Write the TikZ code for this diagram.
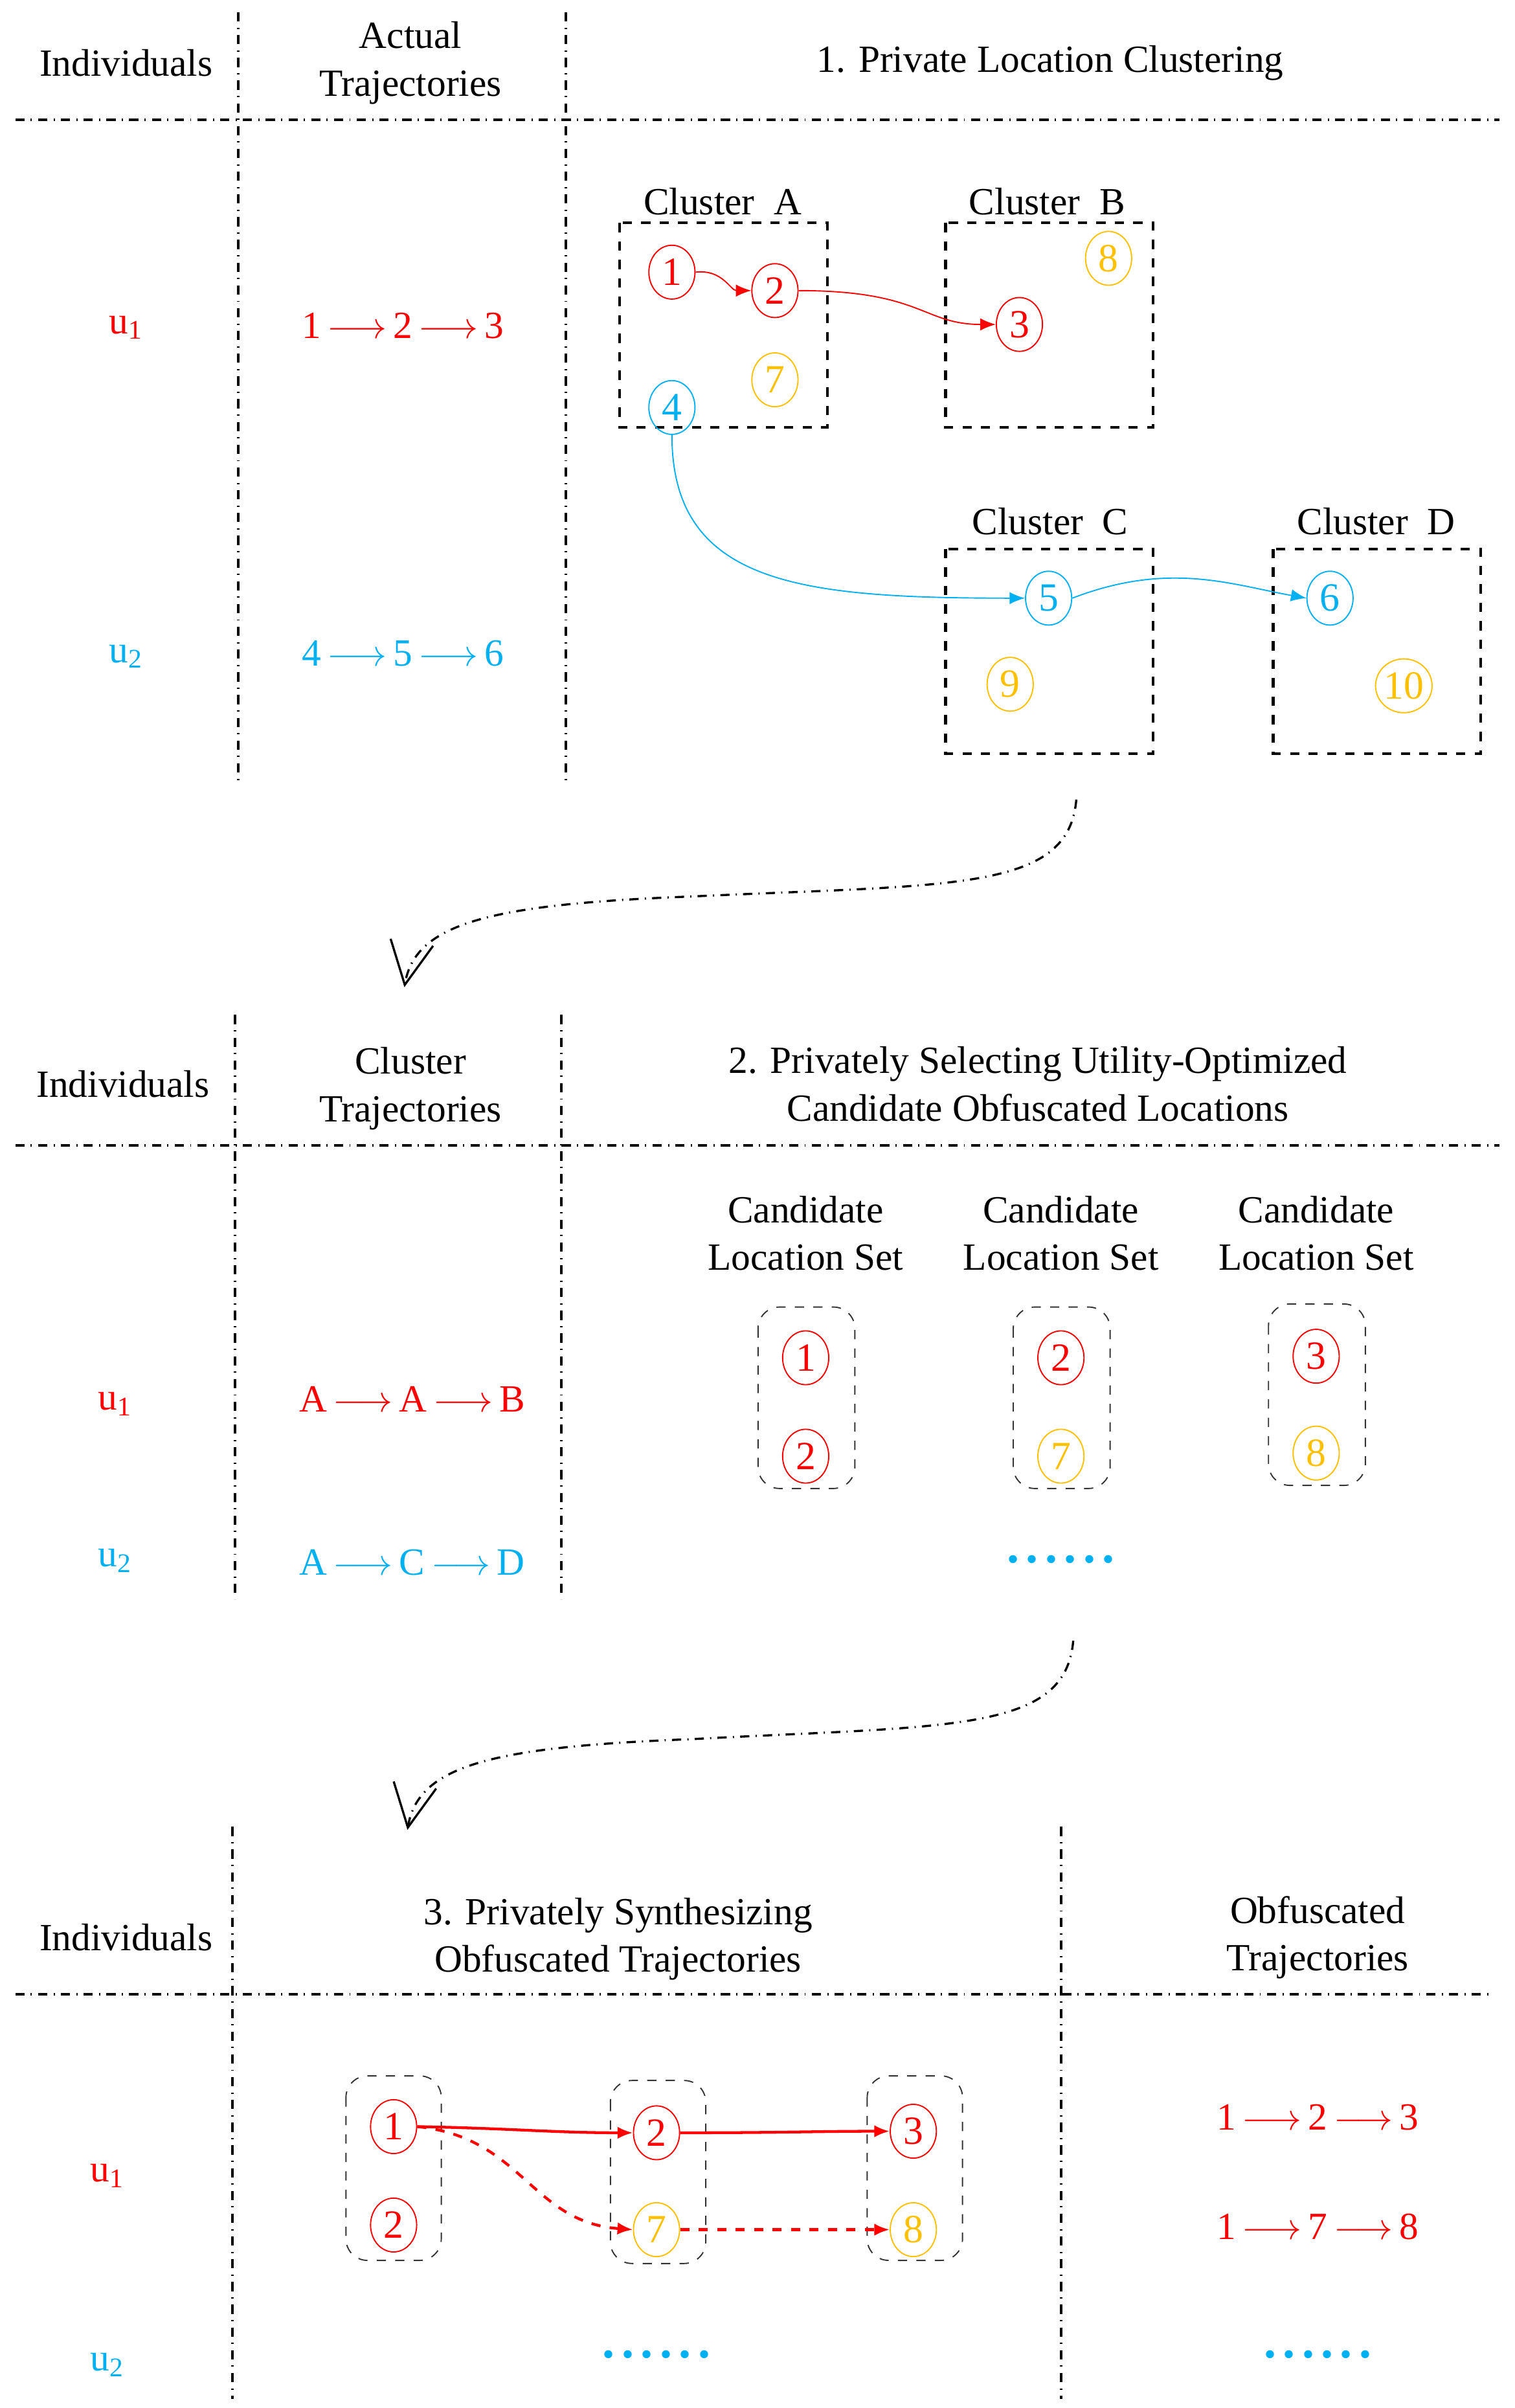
\documentclass[tikz,border=0pt]{standalone}
\usepackage{fontspec}
\setmainfont{Liberation Serif}
\usetikzlibrary{shapes.geometric,arrows.meta}
\definecolor{myred}{RGB}{255,0,0}
\definecolor{mycyan}{RGB}{0,176,240}
\definecolor{myyellow}{RGB}{255,192,0}
\newcommand{\ra}{\,$\longrightarrow$\,}
\newcommand{\dotrow}{.\hspace{2.2pt}.\hspace{2.2pt}.\hspace{2.2pt}.\hspace{2.2pt}.\hspace{2.2pt}.}
\tikzset{
  sep/.style={dash dot,line width=0.8pt},
  loc/.style={ellipse,draw,thin,inner sep=0pt,minimum width=15pt,minimum height=17.5pt,font=\fontsize{13}{13}\selectfont},
  cbox/.style={dashed,line width=0.9pt},
  rbox/.style={draw=black!80,dashed,rounded corners=7pt,thin},
  txt/.style={font=\fontsize{12.5}{15.5}\selectfont,align=center},
  flow/.style={-{Latex[length=5pt,width=4pt]},thin},
  bigarrow/.style={dash dot,line width=0.7pt,-{Straight Barb[length=14pt,width=14pt,line width=0.7pt]}},
  dots/.style={font=\fontsize{16}{16}\selectfont\bfseries,text=mycyan}
}
\begin{document}
\begin{tikzpicture}[x=0.5pt,y=0.5pt,yscale=-1]
\useasboundingbox (0,0) rectangle (985,1566);

% section 1
\draw[sep] (155,8) -- (155,510);
\draw[sep] (368,8) -- (368,510);
\draw[sep] (10,78) -- (975,78);
\node[txt] (ind1) at (82,41) {Individuals};
\node[txt] (act) at (267,41) {Actual\\Trajectories};
\node[txt] (title1) at (683,41) {1. Private Location Clustering};
\node[txt,text=myred] (u1a) at (82,213) {u\textsubscript{1}};
\node[txt,text=mycyan] (u2a) at (82,427) {u\textsubscript{2}};
\node[txt,text=myred] (tra) at (262,212) {1\ra 2\ra 3};
\node[txt,text=mycyan] (trb) at (262,425) {4\ra 5\ra 6};

\draw[cbox] (403,145) rectangle (538,278);
\draw[cbox] (615,145) rectangle (750,278);
\draw[cbox] (615,357) rectangle (750,490);
\draw[cbox] (828,357) rectangle (963,490);
\node[txt] (clA) at (470,131) {Cluster\ \ A};
\node[txt] (clB) at (681,131) {Cluster\ \ B};
\node[txt] (clC) at (683,339) {Cluster\ \ C};
\node[txt] (clD) at (895,339) {Cluster\ \ D};

\node[loc,myred] (p1) at (437,177) {1};
\node[loc,myred] (p2) at (504,189) {2};
\node[loc,myred] (p3) at (663,211) {3};
\node[loc,mycyan] (p4) at (437,265) {4};
\node[loc,myyellow] (p7) at (504,247) {7};
\node[loc,myyellow] (p8) at (721,168) {8};
\node[loc,mycyan] (p5) at (682,389) {5};
\node[loc,mycyan] (p6) at (865,389) {6};
\node[loc,myyellow] (p9) at (657,445) {9};
\node[loc,myyellow] (p10) at (913,446) {10};

\draw[flow,myred] (p1.east) .. controls (470,175) and (475,189) .. (p2.west);
\draw[flow,myred] (p2.east) .. controls (600,189) and (600,211) .. (p3.west);
\draw[flow,mycyan] (p4.south) .. controls (437,380) and (520,389) .. (p5.west);
\draw[flow,mycyan] (p5.east) .. controls (760,365) and (800,380) .. (p6.west);

\coordinate (s1) at (700,520);
\coordinate (e1) at (263,642);
\draw[bigarrow] (s1) .. controls (695,580) and (620,575) .. (450,583) .. controls (320,588) and (270,600) .. (e1);

% section 2
\draw[sep] (153,660) -- (153,1040);
\draw[sep] (365,660) -- (365,1040);
\draw[sep] (10,745) -- (975,745);
\node[txt] (ind2) at (80,705) {Individuals};
\node[txt] (ctr) at (267,708) {Cluster\\Trajectories};
\node[txt] (title2) at (675,705) {2. Privately Selecting Utility-Optimized\\Candidate Obfuscated Locations};
\node[txt] (cs1) at (524,802) {Candidate\\Location Set};
\node[txt] (cs2) at (690,802) {Candidate\\Location Set};
\node[txt] (cs3) at (856,802) {Candidate\\Location Set};
\draw[rbox] (493,850) rectangle (556,968);
\draw[rbox] (659,850) rectangle (722,968);
\draw[rbox] (825,848) rectangle (888,966);
\node[loc,myred] (q1) at (524,883) {1};
\node[loc,myred] (q2) at (524,947) {2};
\node[loc,myred] (q3) at (690,883) {2};
\node[loc,myyellow] (q4) at (690,947) {7};
\node[loc,myred] (q5) at (856,882) {3};
\node[loc,myyellow] (q6) at (856,945) {8};
\node[txt,text=myred] (u1b) at (75,913) {u\textsubscript{1}};
\node[txt,text=mycyan] (u2b) at (75,1015) {u\textsubscript{2}};
\node[txt,text=myred] (trc) at (268,910) {A\ra A\ra B};
\node[txt,text=mycyan] (trd) at (268,1016) {A\ra C\ra D};
\node[dots] (dt1) at (690,1014) {\dotrow};

\coordinate (s2) at (698,1067);
\coordinate (e2) at (265,1190);
\draw[bigarrow] (s2) .. controls (693,1127) and (618,1122) .. (450,1131) .. controls (320,1136) and (272,1148) .. (e2);

% section 3
\draw[sep] (151,1188) -- (151,1560);
\draw[sep] (690,1188) -- (690,1560);
\draw[sep] (10,1297) -- (970,1297);
\node[txt] (ind3) at (82,1260) {Individuals};
\node[txt] (title3) at (402,1261) {3. Privately Synthesizing\\Obfuscated Trajectories};
\node[txt] (obf) at (857,1260) {Obfuscated\\Trajectories};
\draw[rbox] (225,1350) rectangle (287,1470);
\draw[rbox] (397,1353) rectangle (459,1472);
\draw[rbox] (564,1350) rectangle (626,1470);
\node[loc,myred] (r1) at (256,1383) {1};
\node[loc,myred] (r2) at (256,1447) {2};
\node[loc,myred] (r3) at (427,1387) {2};
\node[loc,myyellow] (r4) at (427,1450) {7};
\node[loc,myred] (r5) at (594,1386) {3};
\node[loc,myyellow] (r6) at (594,1450) {8};
\draw[flow,myred,line width=0.9pt] (r1.east) .. controls (330,1384) and (360,1387) .. (r3.west);
\draw[flow,myred,line width=0.9pt] (r3.east) .. controls (510,1387) and (530,1386) .. (r5.west);
\draw[flow,myred,dashed,line width=0.9pt] (r1.east) .. controls (340,1390) and (345,1445) .. (r4.west);
\draw[flow,myred,dashed,line width=0.9pt] (r4.east) -- (r6.west);
\node[txt,text=myred] (u1c) at (70,1415) {u\textsubscript{1}};
\node[txt,text=mycyan] (u2c) at (70,1538) {u\textsubscript{2}};
\node[txt,text=myred] (tre) at (857,1377) {1\ra 2\ra 3};
\node[txt,text=myred] (trf) at (857,1448) {1\ra 7\ra 8};
\node[dots] (dt2) at (427,1531) {\dotrow};
\node[dots] (dt3) at (857,1531) {\dotrow};
\end{tikzpicture}
\end{document}
